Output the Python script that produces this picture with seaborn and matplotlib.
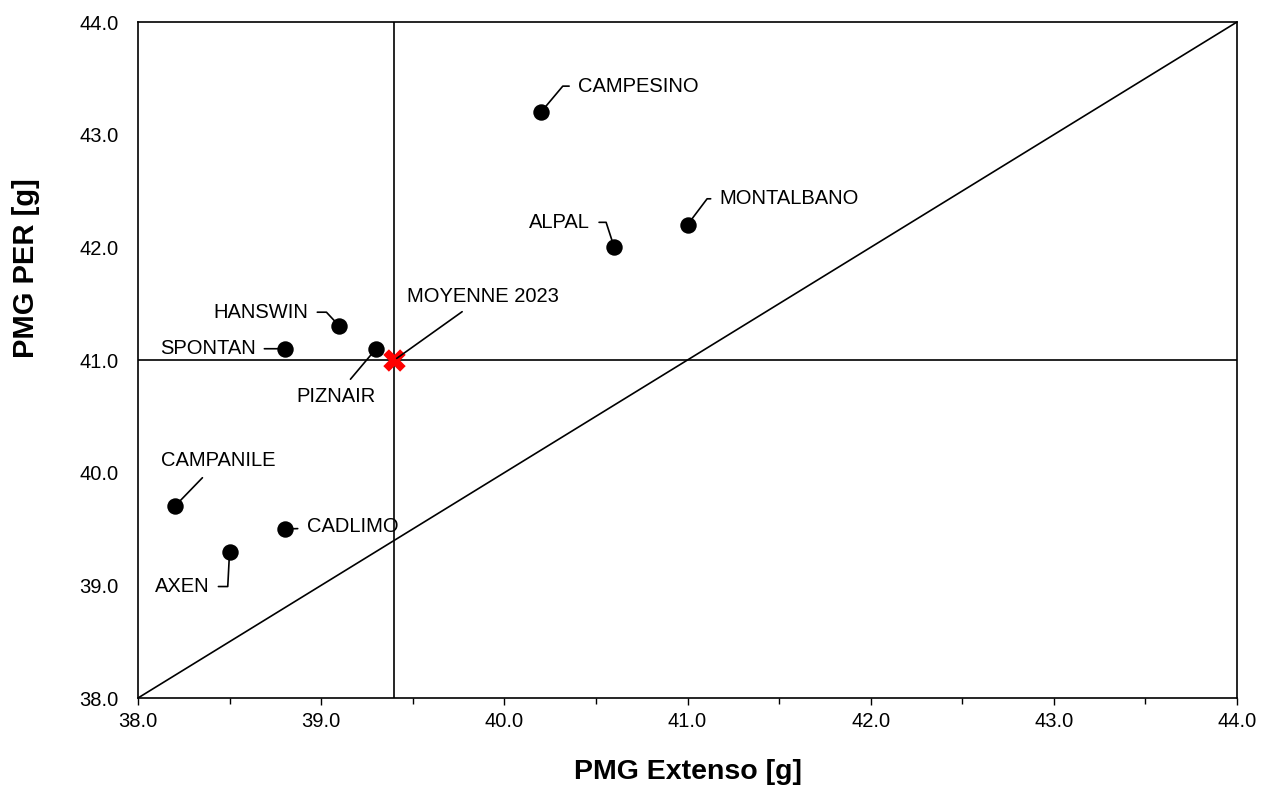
import matplotlib
matplotlib.use("Agg")
import matplotlib.pyplot as plt
import seaborn as sns
import pandas as pd
import numpy as np

varieties = ["CAMPESINO", "MONTALBANO", "ALPAL", "HANSWIN", "PIZNAIR",
             "SPONTAN", "CAMPANILE", "CADLIMO", "AXEN"]
pmg_extenso = [40.2, 41.0, 40.6, 39.1, 39.3, 38.8, 38.2, 38.8, 38.5]
pmg_per = [43.2, 42.2, 42.0, 41.3, 41.1, 41.1, 39.7, 39.5, 39.3]
mean_label = "MOYENNE 2023"
mean_x = 39.4
mean_y = 41.0
ticks = [38.0, 39.0, 40.0, 41.0, 42.0, 43.0, 44.0]

df = pd.DataFrame({"variety": varieties, "x": pmg_extenso, "y": pmg_per})

sns.set_theme(style="white")
plt.rcParams['font.family'] = ['Liberation Sans', 'DejaVu Sans']
plt.rcParams['text.color'] = 'black'
plt.rcParams['axes.labelcolor'] = 'black'
plt.rcParams['xtick.color'] = 'black'
plt.rcParams['ytick.color'] = 'black'

fig = plt.figure(figsize=(12.61, 7.96), dpi=100)
ax = fig.add_axes([138/1261, 1-698/796, (1237-138)/1261, (698-22)/796])

ax.set_xlim(ticks[0], ticks[-1])
ax.set_ylim(ticks[0], ticks[-1])

# diagonal y = x
ax.plot([ticks[0], ticks[-1]], [ticks[0], ticks[-1]], color="black", lw=1.2, zorder=1)
# mean lines
ax.axvline(mean_x, color="black", lw=1.2, zorder=1)
ax.axhline(mean_y, color="black", lw=1.2, zorder=1)

sns.scatterplot(data=df, x="x", y="y", ax=ax, color="black", s=140,
                edgecolor="black", linewidth=0, zorder=3, legend=False)
ax.scatter([mean_x], [mean_y], marker="X", s=260, color="#ff0000",
           linewidths=0, zorder=4)

# label placement: (offset px, ha, va, connection style)
label_style = {
    "CAMPESINO": ((37, 26), "left", "center", "angle,angleA=0,angleB=50,rad=0"),
    "MONTALBANO": ((32, 26), "left", "center", "angle,angleA=0,angleB=53,rad=0"),
    "ALPAL": ((-24, 25), "right", "center", "angle,angleA=0,angleB=108,rad=0"),
    "HANSWIN": ((-31, 14), "right", "center", "angle,angleA=0,angleB=133,rad=0"),
    "SPONTAN": ((-29, 0), "right", "center", "arc3,rad=0"),
    "PIZNAIR": ((-40, -38), "center", "top", "arc3,rad=0"),
    "CAMPANILE": ((44, 36), "center", "bottom", "arc3,rad=0"),
    "CADLIMO": ((22, 2), "left", "center", "arc3,rad=0"),
    "AXEN": ((-20, -35), "right", "center", "angle,angleA=0,angleB=-93,rad=0"),
}

for name, xv, yv in zip(varieties, pmg_extenso, pmg_per):
    (dx, dy), ha, va, cs = label_style[name]
    ax.annotate(name, xy=(xv, yv), xytext=(dx, dy), textcoords="offset pixels",
                ha=ha, va=va, fontsize=14.5, color="black",
                arrowprops=dict(arrowstyle="-", color="black", lw=1.2,
                                connectionstyle=cs, shrinkA=4, shrinkB=5),
                zorder=5)

ax.annotate(mean_label, xy=(mean_x, mean_y), xytext=(89, 54),
            textcoords="offset pixels", ha="center", va="bottom",
            fontsize=14.5, color="black",
            arrowprops=dict(arrowstyle="-", color="black", lw=1.2,
                            shrinkA=3, shrinkB=2), zorder=5)

ax.set_xticks(ticks)
ax.set_yticks(ticks)
ax.set_xticklabels([f"{t:.1f}" for t in ticks], fontsize=14.5, color="black")
ax.set_yticklabels([f"{t:.1f}" for t in ticks], fontsize=14.5, color="black")
ax.set_xticks(np.arange(38.5, 44.0, 1.0), minor=True)
ax.tick_params(axis="x", which="major", direction="out", length=5, width=1,
               color="black", pad=5, bottom=True)
ax.tick_params(axis="x", which="minor", direction="out", length=4, width=1,
               color="black", bottom=True)
ax.tick_params(axis="y", which="both", length=0, pad=14, left=True)
for sp in ax.spines.values():
    sp.set_color("black")
    sp.set_linewidth(1.2)
    sp.set_visible(True)

ax.set_xlabel("PMG Extenso [g]", fontsize=20.5, fontweight="bold", color="black")
ax.set_ylabel("PMG PER [g]", fontsize=21, fontweight="bold", color="black")
ax.xaxis.set_label_coords(0.5, -0.09)
ax.yaxis.set_label_coords(-0.089, 0.636)

fig.savefig("out.png", dpi=100, facecolor="white")
